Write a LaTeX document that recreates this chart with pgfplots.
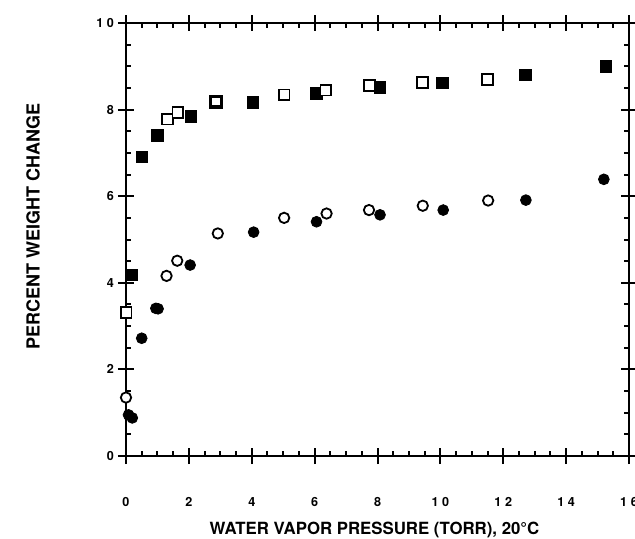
\documentclass[border=0pt]{standalone}
\usepackage{fontspec}
\setmainfont{texgyreheros}[Extension=.otf, UprightFont=*-regular, BoldFont=*-bold]
\usepackage{pgfplots}
\pgfplotsset{compat=1.18}

\begin{document}
\begin{tikzpicture}
\begin{axis}[
    scale only axis,
    width=251.5pt, height=216.5pt,
    xmin=0, xmax=16, ymin=0, ymax=10,
    xtick={0,2,...,16}, ytick={0,2,...,10},
    xticklabels={0,2,4,6,8,1\hspace{1.8pt}0,1\hspace{1.8pt}2,1\hspace{1.8pt}4,1\hspace{1.8pt}6},
    yticklabels={0,2,4,6,8,1\hspace{1.8pt}0},
    minor tick num=3,
    tick align=inside,
    major tick length=4pt,
    minor tick length=2.5pt,
    extra x ticks={0,2,...,16}, extra y ticks={0,2,...,10},
    extra x tick labels={,,,,,,,,}, extra y tick labels={,,,,,},
    extra tick style={tick align=outside, major tick length=4pt},
    axis line style={line width=1.3pt},
    every tick/.style={black, line width=1pt},
    tick label style={font=\bfseries\fontsize{6.3}{7}\selectfont},
    xticklabel style={yshift=-17pt},
    yticklabel style={xshift=-2.5pt},
    xlabel={WATER VAPOR PRESSURE (TORR), 20°C},
    ylabel={PERCENT WEIGHT CHANGE},
    every axis x label/.style={at={(rel axis cs:0.494,0)}, yshift=-37pt, anchor=center,
        font=\bfseries\fontsize{8.4}{10}\selectfont},
    every axis y label/.style={at={(rel axis cs:0,0.53)}, xshift=-46.5pt, rotate=90, anchor=center,
        font=\bfseries\fontsize{9}{10}\selectfont},
    clip=false,
]
% filled squares
\addplot[only marks, mark=square*, mark size=2.9pt, black] coordinates {
    (0.18,4.18)(0.5,6.91)(1.0,7.41)(2.06,7.84)(2.86,8.16)(4.04,8.16)
    (6.06,8.38)(8.08,8.51)(10.06,8.62)(12.71,8.80)(15.26,9.00)};
% open squares
\addplot[only marks, mark=square*, mark size=2.7pt, mark options={fill=white, draw=black, line width=0.9pt}] coordinates {
    (0,3.31)(1.32,7.78)(1.65,7.93)(5.03,8.34)(6.36,8.45)(7.74,8.55)(9.44,8.62)(11.5,8.70)};
\addplot[only marks, mark=square*, mark size=2.7pt, mark options={fill=white, draw=black, line width=1.8pt}] coordinates {
    (2.86,8.18)};
% filled circles
\addplot[only marks, mark=*, mark size=2.7pt, black] coordinates {
    (0.08,0.95)(0.2,0.88)(0.5,2.72)(0.95,3.41)(1.02,3.40)(2.04,4.41)(4.06,5.17)
    (6.06,5.41)(8.08,5.57)(10.09,5.68)(12.72,5.91)(15.2,6.39)};
% open circles
\addplot[only marks, mark=*, mark size=2.6pt, mark options={fill=white, draw=black, line width=0.9pt}] coordinates {
    (0,1.35)(1.29,4.16)(1.63,4.51)(2.92,5.14)(5.03,5.50)(6.38,5.60)(7.73,5.68)
    (9.44,5.78)(11.52,5.90)};
\coordinate (O) at (rel axis cs:0,0);
\end{axis}
\pgfresetboundingbox
\path[use as bounding box] (O) ++(-63pt,-41pt) rectangle ++(317.5pt,269pt);
\end{tikzpicture}
\end{document}
